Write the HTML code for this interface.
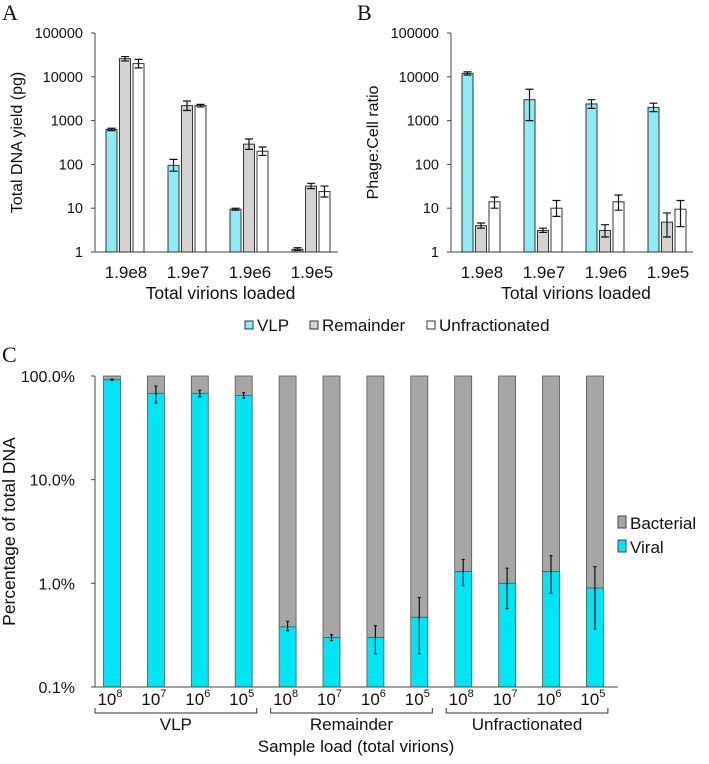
<!DOCTYPE html>
<html><head><meta charset="utf-8"><style>
body{margin:0;background:#fff;}
svg text{font-family:"Liberation Sans",sans-serif;fill:#111;}
.ser{font-family:"Liberation Serif",serif;}
</style></head><body>
<svg id="s" width="709" height="759" xmlns="http://www.w3.org/2000/svg">
<text class="ser" x="2" y="20" font-size="22">A</text>
<text class="ser" x="357" y="20" font-size="22">B</text>
<text class="ser" x="2" y="362" font-size="22">C</text>
<g id="gA"></g>
<g id="gB"></g>
<g id="gC"></g>
<g>
<rect x="245" y="321" width="8" height="8" fill="#8eeaf5" stroke="#333"/>
<text x="257" y="331" font-size="17">VLP</text>
<rect x="310" y="321" width="8" height="8" fill="#d3d3d3" stroke="#333"/>
<text x="322" y="331" font-size="17">Remainder</text>
<rect x="427" y="321" width="8" height="8" fill="#fff" stroke="#333"/>
<text x="439" y="331" font-size="17">Unfractionated</text>
</g>
</svg>
<script>
const groupsAB=["1.9e8","1.9e7","1.9e6","1.9e5"];
const ticksAB=[1,10,100,1000,10000,100000];
const aVLP=[630,95,9.5,1.15], aVLPlo=[590,70,9,1.08], aVLPhi=[670,130,10,1.25];
const aRem=[26000,2200,290,32], aRemlo=[23000,1700,220,28], aRemhi=[29000,2800,380,37];
const aUnf=[20000,2200,200,24], aUnflo=[16000,2050,160,18], aUnfhi=[25000,2350,250,32];
const bVLP=[12000,3000,2400,2000], bVLPlo=[11000,1000,1900,1600], bVLPhi=[13000,5200,3000,2500];
const bRem=[4,3.1,3.1,4.8], bRemlo=[3.5,2.8,2.2,2.2], bRemhi=[4.6,3.5,4.2,7.8];
const bUnf=[14,10,14,9.5], bUnflo=[10,6.5,9,3.8], bUnfhi=[18,15,20,15];
const cCats=["8","7","6","5","8","7","6","5","8","7","6","5"];
const cGroups=["VLP","Remainder","Unfractionated"];
const cViral=[92,68,68,65,0.38,0.30,0.30,0.47,1.3,1.0,1.3,0.9];
const cLo=[91,55,63,61,0.35,0.28,0.21,0.21,0.95,0.57,0.8,0.36];
const cHi=[93,80,73,69,0.43,0.32,0.39,0.73,1.7,1.4,1.85,1.45];
const cTicks=[0.1,1,10,100];
const cTickLabels=["0.1%","1.0%","10.0%","100.0%"];
const NS="http://www.w3.org/2000/svg";
function mk(p,t,a){const e=document.createElementNS(NS,t);for(const k in a)e.setAttribute(k,a[k]);p.appendChild(e);return e;}
function errbar(g,x,y1,y2,w){
 const e=mk(g,'path',{d:`M${x},${y1}V${y2}M${x-w},${y1}h${2*w}M${x-w},${y2}h${2*w}`,stroke:'#111','stroke-width':1.2,fill:'none'});
 
 
}
function panelAB(g,ax,right,yTitle,sets,pref){
 const top=33,bot=252;
 const ys=v=>bot-(Math.log10(v)-0)/5*(bot-top);
 const gx=i=>ax+29+i*62;
 const ya=mk(g,'line',{x1:ax,y1:top,x2:ax,y2:bot,stroke:'#444','stroke-width':1});
 
 const xa=mk(g,'line',{x1:ax,y1:bot,x2:right,y2:bot,stroke:'#444','stroke-width':1});
 
 ticksAB.forEach(t=>{
  mk(g,'line',{x1:ax-4,y1:ys(t),x2:ax,y2:ys(t),stroke:'#444'});
  const tx=mk(g,'text',{x:ax-12,y:ys(t)+5,'font-size':14.5,'text-anchor':'end'});tx.textContent=t;
  
 });
 groupsAB.forEach((c,i)=>{
  const tx=mk(g,'text',{x:gx(i)+2,y:278,'font-size':17,'text-anchor':'middle'});tx.textContent=c;
  
 });
 const xt=mk(g,'text',{x:(ax+right)/2+4,y:299,'font-size':17.5,'text-anchor':'middle'});xt.textContent='Total virions loaded';
 
 const yt=mk(g,'text',{x:0,y:0,'font-size':16,'text-anchor':'middle',transform:`translate(${ax-73},${(top+bot)/2}) rotate(-90)`});yt.textContent=yTitle;
 
 sets.forEach((s,k)=>{
  s.v.forEach((v,i)=>{
   const x=gx(i)-18+k*13.5;
   const r=mk(g,'rect',{x:x,y:ys(v),width:11,height:bot-ys(v),fill:s.fill,stroke:'#333','stroke-width':1});
   
   
   errbar(g,x+5.5,ys(s.lo[i]),ys(s.hi[i]),4);
  });
 });
}
panelAB(document.getElementById('gA'),95,338,'Total DNA yield (pg)',[
 {n:'vlp',v:aVLP,lo:aVLPlo,hi:aVLPhi,fill:'#8eeaf5'},
 {n:'remainder',v:aRem,lo:aRemlo,hi:aRemhi,fill:'#d3d3d3'},
 {n:'unfractionated',v:aUnf,lo:aUnflo,hi:aUnfhi,fill:'#fff'}],'a');
panelAB(document.getElementById('gB'),451,693,'Phage:Cell ratio',[
 {n:'vlp',v:bVLP,lo:bVLPlo,hi:bVLPhi,fill:'#8eeaf5'},
 {n:'remainder',v:bRem,lo:bRemlo,hi:bRemhi,fill:'#d3d3d3'},
 {n:'unfractionated',v:bUnf,lo:bUnflo,hi:bUnfhi,fill:'#fff'}],'b');
(function(){
 const g=document.getElementById('gC');
 const top=376,bot=687,ax=95,right=618;
 const ys=v=>bot-(Math.log10(v)+1)/3*(bot-top);
 const cx=i=>112+i*43.9;
 const w=17;
 cViral.forEach((v,i)=>{
  const b=mk(g,'rect',{x:cx(i)-w/2,y:top,width:w,height:ys(v)-top,fill:'#a6a6a6',stroke:'#555','stroke-width':0.8});
  
  const r=mk(g,'rect',{x:cx(i)-w/2,y:ys(v),width:w,height:bot-ys(v),fill:'#00e5f5',stroke:'#555','stroke-width':0.8});
  
  errbar(g,cx(i),ys(cLo[i]),ys(cHi[i]),1.5);
  const t=mk(g,'text',{x:cx(i)-2,y:705,'font-size':17,'text-anchor':'middle'});
  t.innerHTML='10<tspan font-size="11" dy="-8">'+cCats[i]+'</tspan>';
  
 });
 const ya=mk(g,'line',{x1:ax,y1:top,x2:ax,y2:bot,stroke:'#444'});
 
 const xa=mk(g,'line',{x1:ax,y1:bot,x2:right,y2:bot,stroke:'#444'});
 
 cTicks.forEach((t,i)=>{
  mk(g,'line',{x1:ax-4,y1:ys(t),x2:ax,y2:ys(t),stroke:'#444'});
  const tx=mk(g,'text',{x:ax-20,y:ys(t)+6,'font-size':16,'text-anchor':'end'});tx.textContent=cTickLabels[i];
  
 });
 cGroups.forEach((n,k)=>{
  const x1=cx(k*4)-17,x2=cx(k*4+3)+13;
  const br=mk(g,'path',{d:`M${x1},708V713H${x2}V708`,stroke:'#333',fill:'none','stroke-width':1});
  
  const t=mk(g,'text',{x:(x1+x2)/2,y:730,'font-size':17,'text-anchor':'middle'});t.textContent=n;
  
 });
 const xt=mk(g,'text',{x:356,y:752,'font-size':17,'text-anchor':'middle'});xt.textContent='Sample load (total virions)';
 
 const yt=mk(g,'text',{x:0,y:0,'font-size':17.5,'text-anchor':'middle',transform:`translate(15,${(top+bot)/2}) rotate(-90)`});yt.textContent='Percentage of total DNA';
 
 [['Bacterial','#a6a6a6',523],['Viral','#00e5f5',547]].forEach(l=>{
  const r=mk(g,'rect',{x:618,y:l[2]-7,width:8,height:12,fill:l[1],stroke:'#444'});
  
  const t=mk(g,'text',{x:630,y:l[2]+6,'font-size':17});t.textContent=l[0];
  
 });
})();
</script>
</body></html>
